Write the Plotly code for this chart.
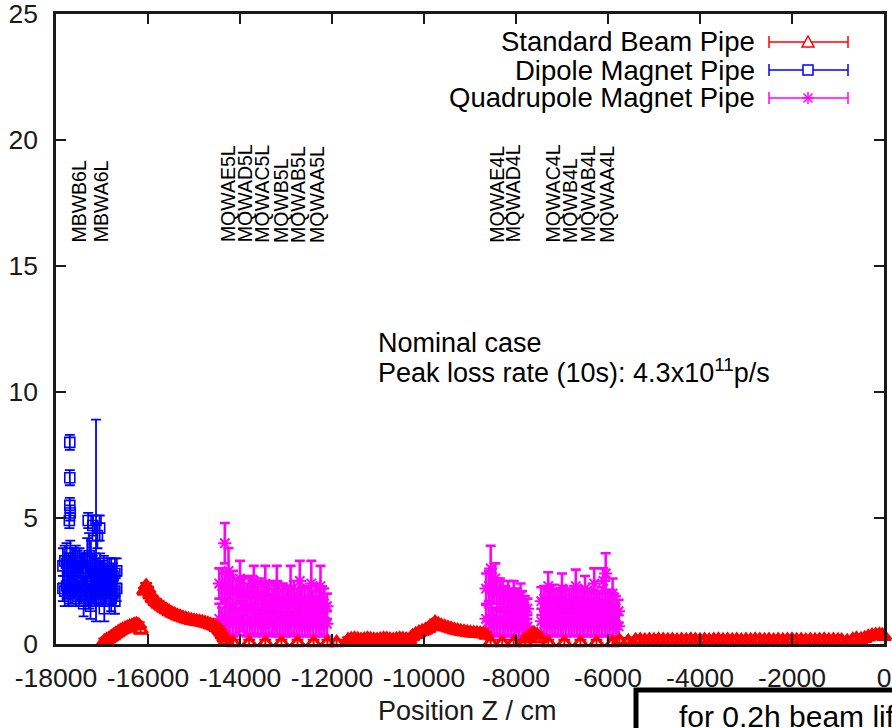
import plotly.graph_objects as go

# ---------------- data ----------------
x_tick_vals = [-18000, -16000, -14000, -12000, -10000, -8000, -6000, -4000, -2000, 0]
x_tick_text = ["-18000", "-16000", "-14000", "-12000", "-10000", "-8000", "-6000", "-4000", "-2000", "0"]
y_tick_vals = [0, 5, 10, 15, 20, 25]

series_names = ["Standard Beam Pipe", "Dipole Magnet Pipe", "Quadrupole Magnet Pipe"]

magnet_names = ["MBWB6L", "MBWA6L",
                "MQWAE5L", "MQWAD5L", "MQWAC5L", "MQWB5L", "MQWAB5L", "MQWAA5L",
                "MQWAE4L", "MQWAD4L",
                "MQWAC4L", "MQWB4L", "MQWAB4L", "MQWAA4L"]
magnet_pos = [-17490, -17030,
              -14260, -13900, -13520, -13110, -12740, -12330,
              -8420, -8070,
              -7200, -6830, -6430, -6030]

# Standard beam pipe (red)
std_x = [-16950, -16900, -16850, -16800, -16750, -16700, -16650, -16600, -16550, -16500,
         -16450, -16400, -16350, -16300, -16250, -16200, -16160,
         -16080, -16040, -16000, -15950, -15900, -15840, -15780, -15720, -15660, -15600,
         -15540, -15480, -15420, -15360, -15300, -15240, -15180, -15120, -15060, -15000,
         -14940, -14880, -14820, -14760, -14700, -14640, -14580, -14520, -14460, -14420,
         -14380, -14340, -14300,
         -14150, -13800, -13450, -13100, -12750, -12400, -12100,
         -11900, -11650, -11580, -11510, -11440, -11370, -11300, -11230, -11160, -11090,
         -11020, -10950, -10880, -10810, -10740, -10670, -10600, -10530, -10460, -10390, -10320,
         -10250, -10180, -10110, -10040, -9970, -9900, -9830, -9760, -9690, -9620, -9550,
         -9480, -9410, -9340, -9270, -9200, -9130, -9060, -8990, -8920, -8850, -8780, -8710, -8650,
         -8550, -8300, -8050, -7800,
         -7780, -7720, -7660, -7600, -7540, -7480,
         -7300, -6950, -6600, -6250, -5900,
         -5750, -5560, -5400, -5300, -5200, -5100, -5000, -4900, -4800, -4700, -4600, -4500,
         -4400, -4300, -4200, -4100, -4000, -3900, -3800, -3700, -3600, -3500, -3400, -3300,
         -3200, -3100, -3000, -2900, -2800, -2700, -2600, -2500, -2400, -2300, -2200, -2100,
         -2000, -1900, -1800, -1700, -1600, -1500, -1400, -1300, -1200, -1100, -1000, -920,
         -800, -680, -600,
         -500, -420, -340, -260, -180, -100, -40, 0]
std_y = [0.1, 0.15, 0.2, 0.27, 0.33, 0.4, 0.46, 0.52, 0.57, 0.61,
         0.65, 0.69, 0.72, 0.76, 0.78, 0.74, 0.55,
         2.1, 2.3, 2.15, 1.95, 1.8, 1.68, 1.58, 1.5, 1.42, 1.35,
         1.28, 1.22, 1.17, 1.12, 1.08, 1.04, 1.0, 0.97, 0.94, 0.92,
         0.9, 0.88, 0.86, 0.83, 0.8, 0.76, 0.72, 0.66, 0.58, 0.48,
         0.36, 0.24, 0.12,
         0.05, 0.05, 0.05, 0.05, 0.05, 0.05, 0.05,
         0.05, 0.15, 0.18, 0.2, 0.18, 0.15, 0.17, 0.2, 0.18, 0.16,
         0.15, 0.17, 0.2, 0.19, 0.17, 0.15, 0.18, 0.2, 0.19, 0.17, 0.15,
         0.3, 0.38, 0.45, 0.5, 0.55, 0.62, 0.72, 0.85, 0.78, 0.72, 0.68,
         0.64, 0.6, 0.56, 0.53, 0.5, 0.48, 0.46, 0.44, 0.43, 0.42, 0.41, 0.4, 0.35,
         0.05, 0.05, 0.05, 0.05,
         0.2, 0.3, 0.38, 0.4, 0.35, 0.2,
         0.05, 0.05, 0.05, 0.05, 0.05,
         0.12, 0.1, 0.14, 0.15, 0.13, 0.15, 0.14, 0.16, 0.15, 0.14, 0.15, 0.13,
         0.15, 0.14, 0.16, 0.15, 0.14, 0.15, 0.13, 0.15, 0.16, 0.14, 0.15, 0.14,
         0.15, 0.13, 0.15, 0.14, 0.16, 0.15, 0.14, 0.15, 0.13, 0.15, 0.14, 0.15,
         0.16, 0.14, 0.15, 0.13, 0.15, 0.14, 0.15, 0.16, 0.14, 0.15, 0.14, 0.13,
         0.1, 0.16, 0.2,
         0.18, 0.22, 0.28, 0.33, 0.35, 0.36, 0.34, 0.3]

# Dipole magnet pipe (blue)
dip_x = [-17850, -17810, -17770, -17730, -17690, -17650, -17610, -17570, -17530, -17490,
         -17450,
         -17400, -17360, -17320, -17280, -17240, -17200, -17160, -17120, -17080, -17040,
         -17000, -16960, -16920, -16880, -16840, -16800, -16760, -16720, -16680,
         -17850, -17810, -17770, -17730, -17690, -17650, -17610, -17570, -17530, -17490,
         -17450,
         -17400, -17360, -17320, -17280, -17240, -17200, -17160, -17120, -17080, -17040,
         -17000, -16960, -16920, -16880, -16840, -16800, -16760, -16720, -16680,
         -17700, -17700, -17700, -17690, -17710, -17130, -17300, -17200, -17050, -17100,
         -17400, -17250, -16950, -16800, -16720]
dip_y = [3.1, 3.3, 3.2, 3.0, 3.4, 3.2, 3.1, 3.3, 3.0, 3.2,
         3.0,
         3.0, 2.9, 3.4, 3.5, 3.3, 2.9, 3.0, 2.8, 2.9, 3.0,
         2.8, 2.9, 2.7, 2.8, 2.9, 2.8, 2.7, 2.8, 2.9,
         2.2, 2.1, 2.3, 2.0, 2.2, 2.1, 2.3, 2.1, 2.2, 2.0,
         2.1,
         2.2, 2.0, 2.1, 1.9, 2.0, 2.2, 2.1, 2.0, 2.2, 2.1,
         2.0, 2.2, 2.1, 2.3, 2.1, 2.2, 2.0, 2.1, 2.2,
         8.0, 6.6, 5.5, 5.2, 4.9, 4.9, 4.9, 4.7, 4.6, 4.3,
         1.6, 1.5, 1.4, 1.8, 1.7]
dip_err = [0.7, 0.6, 0.8, 0.6, 0.7, 0.6, 0.7, 0.6, 0.7, 0.6,
           0.6,
           0.6, 0.7, 0.8, 0.9, 0.8, 0.6, 0.6, 0.6, 0.5, 0.6,
           0.5, 0.6, 0.5, 0.6, 0.5, 0.6, 0.5, 0.6, 0.5,
           0.5, 0.6, 0.5, 0.5, 0.6, 0.5, 0.5, 0.6, 0.5, 0.5,
           0.5,
           0.5, 0.5, 0.6, 0.5, 0.5, 0.6, 0.5, 0.5, 0.6, 0.5,
           0.5, 0.6, 0.5, 0.5, 0.6, 0.5, 0.5, 0.6, 0.5,
           0.3, 0.3, 0.3, 0.3, 0.3, 4.0, 0.3, 0.4, 0.5, 0.5,
           0.5, 0.5, 0.5, 0.5, 0.5]

# Quadrupole magnet pipe (magenta)
quad1_x = [-14450, -14390, -14330, -14270, -14210, -14150, -14090, -14030, -13970, -13910,
           -13850, -13790, -13730, -13670, -13610, -13550, -13490, -13430, -13370, -13310,
           -13250, -13190, -13130, -13070, -13010, -12950, -12890, -12830, -12770, -12710,
           -12650, -12590, -12530, -12470, -12410, -12350, -12290, -12230, -12170, -12110]
quad1_hi = [2.4, 2.3, 2.2, 2.3, 2.1, 2.2, 2.0, 2.1, 2.0, 2.1,
            1.9, 2.0, 2.1, 1.9, 1.8, 2.0, 1.9, 1.8, 1.9, 1.7,
            1.8, 1.9, 1.7, 1.8, 1.7, 1.8, 1.7, 1.9, 1.7, 1.6,
            1.7, 1.8, 1.6, 1.7, 1.6, 1.8, 1.6, 1.7, 1.6, 1.5]
quad1_hi_err = [0.6, 0.7, 0.6, 0.5, 0.6, 0.7, 0.6, 0.5, 0.6, 0.6,
                0.5, 0.6, 0.6, 0.5, 0.6, 0.6, 0.5, 0.6, 0.6, 0.5,
                0.6, 0.6, 0.5, 0.6, 0.6, 0.5, 0.6, 0.6, 0.5, 0.6,
                0.6, 0.5, 0.6, 0.6, 0.5, 0.6, 0.6, 0.5, 0.6, 0.5]
quad1_lo = [1.0, 0.9, 1.1, 0.9, 1.0, 0.8, 1.0, 0.9, 1.1, 0.9,
            0.8, 1.0, 0.9, 0.8, 1.0, 0.9, 0.8, 0.9, 1.0, 0.8,
            0.9, 0.8, 1.0, 0.9, 0.8, 0.9, 0.8, 1.0, 0.9, 0.8,
            0.9, 0.8, 0.9, 0.8, 0.9, 0.8, 0.9, 0.8, 0.9, 0.8]
quad1_lo_err = [0.6, 0.55, 0.6, 0.55, 0.6, 0.5, 0.6, 0.55, 0.6, 0.55,
                0.5, 0.6, 0.55, 0.5, 0.6, 0.55, 0.5, 0.55, 0.6, 0.5,
                0.55, 0.5, 0.6, 0.55, 0.5, 0.55, 0.5, 0.6, 0.55, 0.5,
                0.55, 0.5, 0.55, 0.5, 0.55, 0.5, 0.55, 0.5, 0.55, 0.5]

quad2_x = [-8650, -8590, -8530, -8470, -8410, -8350, -8290, -8230, -8170, -8110,
           -8050, -7990, -7930, -7870, -7810, -7750]
quad2_hi = [2.2, 2.3, 2.2, 2.1, 2.0, 2.1, 1.9, 1.8, 1.9, 1.7, 1.6, 1.7, 1.5, 1.6, 1.4, 1.4]
quad2_hi_err = [0.6, 0.6, 0.6, 0.5, 0.6, 0.5, 0.6, 0.5, 0.6, 0.5, 0.5, 0.5, 0.5, 0.5, 0.5, 0.4]
quad2_lo = [1.0, 0.9, 1.0, 0.8, 0.9, 1.0, 0.8, 0.9, 0.8, 0.9, 0.8, 0.7, 0.8, 0.7, 0.8, 0.7]
quad2_lo_err = [0.55, 0.55, 0.6, 0.5, 0.55, 0.6, 0.5, 0.55, 0.5, 0.55, 0.5, 0.45, 0.5, 0.45, 0.5, 0.45]

quad3_x = [-7450, -7390, -7330, -7270, -7210, -7150, -7090, -7030, -6970, -6910,
           -6850, -6790, -6730, -6670, -6610, -6550, -6490, -6430, -6370, -6310,
           -6250, -6190, -6130, -6070, -6010, -5950, -5890, -5830, -5770]
quad3_hi = [1.7, 1.8, 1.7, 1.6, 1.8, 1.7, 1.6, 1.7, 1.8, 1.6,
            1.7, 1.6, 1.8, 1.7, 1.6, 1.7, 1.5, 1.6, 1.7, 1.6,
            1.5, 1.6, 1.7, 1.6, 1.5, 1.6, 1.5, 1.4, 1.3]
quad3_hi_err = [0.55, 0.5, 0.55, 0.5, 0.55, 0.5, 0.55, 0.5, 0.5, 0.55,
                0.5, 0.55, 0.5, 0.5, 0.55, 0.5, 0.55, 0.5, 0.5, 0.55,
                0.5, 0.5, 0.55, 0.5, 0.5, 0.55, 0.5, 0.5, 0.45]
quad3_lo = [0.9, 0.8, 0.9, 0.85, 0.8, 0.9, 0.85, 0.8, 0.9, 0.8,
            0.85, 0.9, 0.8, 0.85, 0.9, 0.8, 0.85, 0.8, 0.9, 0.8,
            0.85, 0.8, 0.9, 0.8, 0.85, 0.8, 0.8, 0.75, 0.7]
quad3_lo_err = [0.5, 0.5, 0.55, 0.5, 0.5, 0.55, 0.5, 0.5, 0.55, 0.5,
                0.5, 0.55, 0.5, 0.5, 0.55, 0.5, 0.5, 0.5, 0.55, 0.5,
                0.5, 0.5, 0.55, 0.5, 0.5, 0.5, 0.5, 0.45, 0.45]

quad_out_x = [-14330, -14250, -14000, -13700, -13450, -13200, -12900, -12700, -12450, -12250,
              -8550, -8450, -8050, -7900,
              -7300, -7000, -6700, -6500, -6300, -6100, -6050, -5900]
quad_out_y = [4.0, 2.9, 2.6, 2.5, 2.4, 2.3, 2.2, 2.5, 2.4, 2.3,
              3.0, 2.6, 2.0, 1.9,
              2.3, 2.2, 2.3, 2.2, 2.4, 2.5, 2.8, 2.0]
quad_out_err = [0.8, 0.9, 0.7, 0.6, 0.7, 0.8, 0.9, 0.8, 0.9, 0.8,
                0.9, 0.6, 0.5, 0.5,
                0.55, 0.6, 0.65, 0.5, 0.6, 0.5, 0.8, 0.6]

quad_x = quad1_x + quad1_x + quad2_x + quad2_x + quad3_x + quad3_x + quad_out_x
quad_y = quad1_hi + quad1_lo + quad2_hi + quad2_lo + quad3_hi + quad3_lo + quad_out_y
quad_err = (quad1_hi_err + quad1_lo_err + quad2_hi_err + quad2_lo_err
            + quad3_hi_err + quad3_lo_err + quad_out_err)

# ---------------- style ----------------
FONT = "Liberation Sans"
RED = "#ff0000"
BLUE = "#0000ff"
MAG = "#ff00ff"
INK = "#1a1a1a"

W, H = 892, 728
ML, MR, MT, MB = 56, 8, 14, 84
PW = W - ML - MR
PH = H - MT - MB


def px(xp):
    return (xp - ML) / PW


def py(yp):
    return (H - MB - yp) / PH


fig = go.Figure()

fig.add_trace(go.Scatter(
    x=quad_x, y=quad_y, mode="markers", name=series_names[2], showlegend=False,
    cliponaxis=False,
    marker=dict(symbol="asterisk-open", size=11, color=MAG, line=dict(color=MAG, width=2)),
    error_y=dict(type="data", array=quad_err, visible=True, color=MAG, thickness=2.6, width=5),
))
fig.add_trace(go.Scatter(
    x=dip_x, y=dip_y, mode="markers", name=series_names[1], showlegend=False,
    cliponaxis=False,
    marker=dict(symbol="square-open", size=10, color=BLUE, line=dict(color=BLUE, width=1.6)),
    error_y=dict(type="data", array=dip_err, visible=True, color=BLUE, thickness=1.8, width=5),
))
fig.add_trace(go.Scatter(
    x=std_x, y=std_y, mode="markers", name=series_names[0], showlegend=False,
    cliponaxis=False,
    marker=dict(symbol="triangle-up-open", size=12, color=RED, line=dict(color=RED, width=3.2)),
    error_y=dict(type="constant", value=0.12, visible=True, color=RED, thickness=2, width=6),
))

annotations = []
shapes = []

# magnet labels
for name, pos in zip(magnet_names, magnet_pos):
    annotations.append(dict(
        x=pos, y=15.85, xref="x", yref="y", text=name, showarrow=False,
        textangle=-90, xanchor="center", yanchor="bottom",
        font=dict(family=FONT, size=19.5, color="black")))

# nominal case text
annotations.append(dict(x=px(376), y=py(343), xref="paper", yref="paper",
                        text="Nominal case", showarrow=False, xanchor="left", yanchor="middle",
                        font=dict(family=FONT, size=27, color="black")))
annotations.append(dict(x=px(376), y=py(371), xref="paper", yref="paper",
                        text="Peak loss rate (10s): 4.3x10<sup>11</sup>p/s", showarrow=False,
                        xanchor="left", yanchor="middle",
                        font=dict(family=FONT, size=27, color="black")))

# custom legend (text left of sample, gnuplot style)
legend_rows = [42, 70, 98]
legend_colors = [RED, BLUE, MAG]
for i, (name, col) in enumerate(zip(series_names, legend_colors)):
    yr = py(legend_rows[i])
    annotations.append(dict(x=px(757), y=yr, xref="paper", yref="paper", text=name,
                            showarrow=False, xanchor="right", yanchor="middle",
                            font=dict(family=FONT, size=27.5, color="black")))
    yp = legend_rows[i]
    shapes.append(dict(type="line", xref="paper", yref="paper", x0=px(769), x1=px(848),
                       y0=py(yp), y1=py(yp), line=dict(color=col, width=1.5)))
    for xe in (769, 848):
        shapes.append(dict(type="line", xref="paper", yref="paper", x0=px(xe), x1=px(xe),
                           y0=py(yp - 6), y1=py(yp + 6), line=dict(color=col, width=1.5)))
    cx = 808
    if i == 0:
        path = "M %f,%f L %f,%f L %f,%f Z" % (px(cx - 6), py(yp + 5), px(cx + 6), py(yp + 5),
                                              px(cx), py(yp - 6))
        shapes.append(dict(type="path", xref="paper", yref="paper", path=path,
                           line=dict(color=col, width=1.5), fillcolor="white"))
    elif i == 1:
        shapes.append(dict(type="rect", xref="paper", yref="paper", x0=px(cx - 5), x1=px(cx + 5),
                           y0=py(yp + 5), y1=py(yp - 5), line=dict(color=col, width=1.5),
                           fillcolor="white"))
    else:
        for dx, dy in ((0, 6), (6, 0), (4.5, 4.5), (4.5, -4.5)):
            shapes.append(dict(type="line", xref="paper", yref="paper",
                               x0=px(cx - dx), x1=px(cx + dx), y0=py(yp - dy), y1=py(yp + dy),
                               line=dict(color=col, width=1.5)))

# x axis title
annotations.append(dict(x=px(467), y=py(711), xref="paper", yref="paper",
                        text="Position Z / cm", showarrow=False, xanchor="center",
                        yanchor="middle", font=dict(family=FONT, size=27, color=INK)))

# cut-off box at the bottom right
shapes.append(dict(type="rect", xref="paper", yref="paper", x0=px(636), x1=px(960),
                   y0=py(690), y1=py(780), line=dict(color="black", width=5),
                   fillcolor="white", layer="above"))
annotations.append(dict(x=px(677), y=py(716), xref="paper", yref="paper",
                        text="for 0.2h beam lifetime", showarrow=False, xanchor="left",
                        yanchor="middle", font=dict(family=FONT, size=30, color="black")))

axis_common = dict(showgrid=False, zeroline=False, showline=True, linecolor=INK, linewidth=2.5,
                   mirror="allticks", ticks="inside", ticklen=10, tickwidth=1.5, tickcolor=INK,
                   automargin=False, ticklabeloverflow="allow",
                   tickfont=dict(family=FONT, size=26.5, color=INK))

fig.update_layout(
    width=W, height=H,
    margin=dict(l=ML, r=MR, t=MT, b=MB, pad=0, autoexpand=False),
    paper_bgcolor="white", plot_bgcolor="white",
    showlegend=False,
    xaxis=dict(range=[-18000, 0], tickvals=x_tick_vals, ticktext=x_tick_text,
               ticklabelstandoff=8, **axis_common),
    yaxis=dict(range=[0, 25], tickvals=y_tick_vals, ticklabelstandoff=10, **axis_common),
    annotations=annotations,
    shapes=shapes,
)

fig.write_html("out.html", config={"displayModeBar": False},
               post_script="document.body.style.margin='0';")
